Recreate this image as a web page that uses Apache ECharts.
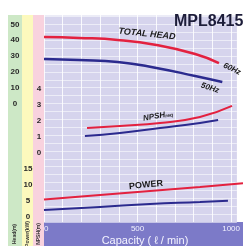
<!DOCTYPE html>
<html>
  <head>
    <meta charset="utf-8" />
    <title>MPL8415</title>
    <script src="https://cdn.jsdelivr.net/npm/echarts@6/dist/echarts.min.js"></script>
    <style>
      html, body { margin: 0; padding: 0; background: #fff; }
      #chart { width: 243px; height: 246px; }
    </style>
  </head>
  <body>
    <div id="chart"></div>
    <script>
      // tick labels
      var headTicks = [0, 10, 20, 30, 40, 50];
      var npshTicks = [0, 1, 2, 3, 4];
      var powerTicks = [0, 5, 10, 15];
      var capTicks = [0, 500, 1000];

      // total head (m)
      var head60Q = [0, 187, 394, 601, 808, 935];
      var head60 = [42.1, 41.5, 40.2, 37.0, 31.3, 25.6];
      var head50Q = [0, 187, 394, 601, 808, 953];
      var head50 = [28.2, 27.5, 26.3, 22.5, 17.4, 13.6];

      // NPSHreq (m)
      var npsh60Q = [223, 394, 601, 808, 974];
      var npsh60 = [1.56, 1.69, 1.88, 2.25, 2.94];
      var npsh50Q = [212, 394, 601, 808, 902];
      var npsh50 = [1.06, 1.25, 1.56, 1.88, 2.06];

      // power (kW)
      var pow60Q = [0, 290, 549, 808, 1031];
      var pow60 = [5.47, 6.88, 8.13, 9.38, 10.53];
      var pow50Q = [0, 290, 549, 808, 953];
      var pow50 = [2.19, 3.13, 4.06, 4.69, 5.09];

      function pairs(q, v) {
        return q.map(function (x, i) { return [x, v[i]]; });
      }

      var RED = '#e3213f';
      var BLUE = '#2b2a8e';
      var capMax = 1031;

      function hiddenX(idx) {
        return {
          type: 'value', gridIndex: idx, min: 0, max: capMax, show: false
        };
      }

      function line(name, q, v, color, idx, w) {
        return {
          name: name, type: 'line', xAxisIndex: idx, yAxisIndex: idx,
          data: pairs(q, v), smooth: true, symbol: 'none', clip: false,
          lineStyle: { color: color, width: w }, z: 5
        };
      }

      function yLabel(ticks, margin) {
        return {
          color: '#2a2a2a', fontSize: 8, fontWeight: 'bold', margin: margin, align: 'center',
          fontFamily: 'Liberation Sans',
          formatter: function (v) { return ticks.indexOf(v) >= 0 ? String(v) : ''; }
        };
      }

      var myChart = echarts.init(document.getElementById('chart'));
      var option = {
        animation: false,
        grid: [
          { left: 44, right: 0, top: 15, bottom: 24, show: true,
            backgroundColor: '#d6d4ed', borderWidth: 0 },
          { left: 44, right: 0, top: 89, bottom: 93 },
          { left: 44, right: 0, top: 169, bottom: 29 }
        ],
        xAxis: [
          {
            type: 'value', gridIndex: 0, min: 0, max: capMax, interval: 100,
            axisLine: { show: false }, axisTick: { show: false },
            splitLine: { lineStyle: { color: 'rgba(255,255,255,0.85)', width: 1 } },
            axisLabel: {
              color: '#f2f2ff', fontSize: 8, margin: 3, alignMinLabel: 'left',
              fontFamily: 'Liberation Sans',
              formatter: function (v) { return capTicks.indexOf(v) >= 0 ? String(v) : ''; }
            }
          },
          hiddenX(1),
          hiddenX(2)
        ],
        yAxis: [
          {
            type: 'value', gridIndex: 0, min: -75, max: 56, interval: 5,
            axisLine: { show: false }, axisTick: { show: false },
            splitLine: { lineStyle: { color: 'rgba(255,255,255,0.55)', width: 1 } },
            axisLabel: yLabel(headTicks, 29)
          },
          {
            type: 'value', gridIndex: 1, min: 0, max: 4, interval: 1,
            axisLine: { show: false }, axisTick: { show: false }, splitLine: { show: false },
            axisLabel: yLabel(npshTicks, 5)
          },
          {
            type: 'value', gridIndex: 2, min: 0, max: 15, interval: 5,
            axisLine: { show: false }, axisTick: { show: false }, splitLine: { show: false },
            axisLabel: yLabel(powerTicks, 16)
          }
        ],
        graphic: [
          { type: 'rect', z: -1, shape: { x: 8, y: 15, width: 14, height: 231 }, style: { fill: '#cde8c6' } },
          { type: 'rect', z: -1, shape: { x: 22, y: 15, width: 11, height: 231 }, style: { fill: '#fcf9bd' } },
          { type: 'rect', z: -1, shape: { x: 33, y: 15, width: 11, height: 231 }, style: { fill: '#f8d2de' } },
          { type: 'rect', z: -1, shape: { x: 44, y: 222, width: 199, height: 24 }, style: { fill: '#7c7ac8' } },
          { type: 'text', z: 10, x: 15, y: 234, rotation: Math.PI / 2,
            style: { text: 'Head(m)', fill: '#333', font: 'bold 5px "Liberation Sans"', align: 'center', verticalAlign: 'middle' } },
          { type: 'text', z: 10, x: 27.5, y: 234, rotation: Math.PI / 2,
            style: { text: 'Power(kW)', fill: '#333', font: 'bold 5px "Liberation Sans"', align: 'center', verticalAlign: 'middle' } },
          { type: 'text', z: 10, x: 38.5, y: 234, rotation: Math.PI / 2,
            style: { text: 'NPSH(m)', fill: '#333', font: 'bold 5px "Liberation Sans"', align: 'center', verticalAlign: 'middle' } },
          { type: 'text', z: 10, x: 174, y: 22,
            style: { text: 'MPL8415', fill: '#1d1d3a', font: 'bold 16px "Liberation Sans"', align: 'left', verticalAlign: 'middle' } },
          { type: 'text', z: 10, x: 147, y: 34, rotation: -0.1,
            style: { text: 'TOTAL HEAD', fill: '#1a1a1a', font: 'italic bold 9px "Liberation Sans"', align: 'center', verticalAlign: 'middle' } },
          { type: 'text', z: 10, x: 232, y: 69, rotation: -0.45,
            style: { text: '60Hz', fill: '#1a1a1a', font: 'italic bold 8px "Liberation Sans"', align: 'center', verticalAlign: 'middle' } },
          { type: 'text', z: 10, x: 210, y: 88, rotation: -0.3,
            style: { text: '50Hz', fill: '#1a1a1a', font: 'italic bold 8px "Liberation Sans"', align: 'center', verticalAlign: 'middle' } },
          { type: 'text', z: 10, x: 158, y: 116, rotation: 0.17,
            style: {
              text: '{a|NPSH}{b|req}', align: 'center', verticalAlign: 'middle',
              rich: {
                a: { fill: '#1a1a1a', font: 'italic bold 8px "Liberation Sans"' },
                b: { fill: '#1a1a1a', font: 'italic bold 5px "Liberation Sans"', padding: [3, 0, 0, 0] }
              }
            } },
          { type: 'text', z: 10, x: 146, y: 185, rotation: 0.1,
            style: { text: 'POWER', fill: '#1a1a1a', font: 'bold 9px "Liberation Sans"', align: 'center', verticalAlign: 'middle' } },
          { type: 'text', z: 10, x: 145, y: 241,
            style: { text: 'Capacity ( ℓ / min)', fill: '#f4f4ff', font: '11px "Liberation Sans"', align: 'center', verticalAlign: 'middle' } }
        ],
        series: [
          line('Head 60Hz', head60Q, head60, RED, 0, 2.5),
          line('Head 50Hz', head50Q, head50, BLUE, 0, 2.5),
          line('NPSH 60Hz', npsh60Q, npsh60, RED, 1, 2),
          line('NPSH 50Hz', npsh50Q, npsh50, BLUE, 1, 2),
          line('Power 60Hz', pow60Q, pow60, RED, 2, 2),
          line('Power 50Hz', pow50Q, pow50, BLUE, 2, 2)
        ]
      };
      myChart.setOption(option);
    </script>
  </body>
</html>
